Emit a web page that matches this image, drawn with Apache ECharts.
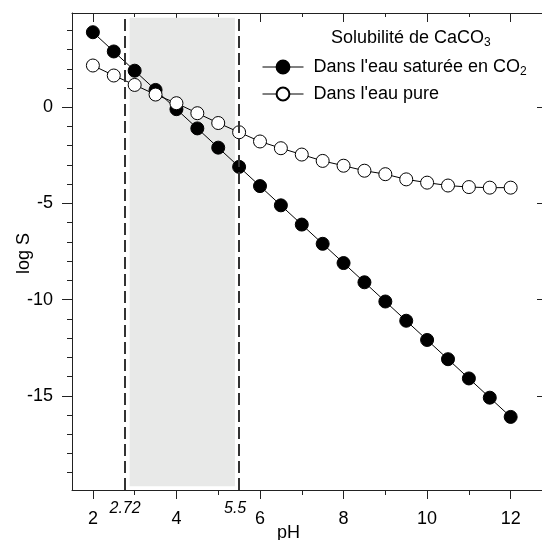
<!DOCTYPE html>
<html>
<head>
<meta charset="utf-8">
<script src="https://cdn.jsdelivr.net/npm/echarts@6/dist/echarts.min.js"></script>
<style>
html,body{margin:0;padding:0;background:#fff;}
#chart{width:542px;height:540px;}
</style>
</head>
<body>
<div id="chart"></div>
<script>
const phValues = [2, 2.5, 3, 3.5, 4, 4.5, 5, 5.5, 6, 6.5, 7, 7.5, 8, 8.5, 9, 9.5, 10, 10.5, 11, 11.5, 12];
const saturatedCO2 = [3.9, 2.9, 1.9, 0.9, -0.1, -1.1, -2.1, -3.1, -4.1, -5.1, -6.1, -7.1, -8.1, -9.1, -10.1, -11.1, -12.1, -13.1, -14.1, -15.1, -16.1];
const pureWater = [2.17, 1.65, 1.16, 0.66, 0.21, -0.31, -0.82, -1.3, -1.78, -2.13, -2.46, -2.79, -3.04, -3.3, -3.48, -3.75, -3.92, -4.07, -4.15, -4.18, -4.18];
const xMajorTicks = [2, 4, 6, 8, 10, 12];
const xMinorTicks = [3, 5, 7, 9, 11];
const yMajorTicks = [0, -5, -10, -15];
const yMinorTicks = [4, 3, 2, 1, -1, -2, -3, -4, -6, -7, -8, -9, -11, -12, -13, -14, -16, -17, -18, -19];
const bandLines = [2.77, 5.5];
const bandLabels = ['2.72', '5.5'];
const shadedRange = [2.88, 5.4];
const seriesNames = ["Dans l'eau saturée en CO2", "Dans l'eau pure"];

const X_MIN = 1.5, X_MAX = 12.75, Y_MIN = -19.9, Y_MAX = 4.9;
const FONT = "'Liberation Sans', Arial, sans-serif";
const AXC = '#222';
const FS = 18;

const chart = echarts.init(document.getElementById('chart'), null, {renderer: 'canvas'});

function xAx(pos, ticks, len, inside, showLine, showLabels) {
  return {
    type: 'value', position: pos, min: X_MIN, max: X_MAX,
    axisLine: {show: showLine, onZero: false, lineStyle: {color: AXC, width: 1}},
    axisTick: {show: true, inside: inside, length: len, customValues: ticks, lineStyle: {color: AXC, width: 1}},
    axisLabel: showLabels ? {show: true, customValues: ticks, margin: 20, fontSize: FS, color: '#000', fontFamily: FONT} : {show: false},
    splitLine: {show: false}
  };
}
function yAx(pos, ticks, len, inside, showLine, showLabels) {
  return {
    type: 'value', position: pos, min: Y_MIN, max: Y_MAX,
    axisLine: {show: showLine, onZero: false, lineStyle: {color: AXC, width: 1}},
    axisTick: {show: true, inside: inside, length: len, customValues: ticks, lineStyle: {color: AXC, width: 1}},
    axisLabel: showLabels ? {show: true, customValues: ticks, margin: 19, fontSize: FS, color: '#000', fontFamily: FONT} : {show: false},
    splitLine: {show: false}
  };
}

const subRich = {sub: {fontSize: 12, fontFamily: FONT, color: '#000', padding: [10, 0, 0, 0]}};

const option = {
  animation: false,
  backgroundColor: '#fff',
  grid: {left: 72, top: 13, width: 471, height: 477, containLabel: false},
  title: {
    text: 'Solubilité de CaCO{sub|3}',
    left: 331, top: 27, padding: 0,
    textStyle: {fontSize: FS, fontWeight: 'normal', color: '#000', fontFamily: FONT, rich: subRich}
  },
  legend: {
    data: seriesNames,
    orient: 'vertical', left: 262, top: 58, padding: 0,
    itemWidth: 41, itemHeight: 16, itemGap: 7,
    lineStyle: {width: 1, color: '#000'},
    formatter: function (name) {
      return name === seriesNames[0] ? "Dans l'eau saturée en CO{sub|2}" : name;
    },
    textStyle: {fontSize: FS, color: '#000', fontFamily: FONT, padding: [0, 0, 0, 5], rich: subRich}
  },
  xAxis: [
    xAx('bottom', xMajorTicks, 9, false, true, true),
    xAx('bottom', xMinorTicks, 5, false, false, false),
    xAx('top', xMajorTicks, 9, true, true, false),
    xAx('top', xMinorTicks, 4, true, false, false)
  ],
  yAxis: [
    yAx('left', yMajorTicks, 10, false, true, true),
    yAx('left', yMinorTicks, 5, false, false, false),
    yAx('right', yMajorTicks, 5, true, true, false)
  ],
  graphic: [
    {type: 'text', left: 277, top: 524, style: {text: 'pH', font: FS + 'px ' + FONT, fill: '#000'}},
    {type: 'text', x: 15, y: 274, rotation: Math.PI / 2, style: {text: 'log S', font: FS + 'px ' + FONT, fill: '#000'}}
  ],
  series: [
    {
      name: 'bands', type: 'line', data: [], z: 1, silent: true,
      markArea: {
        silent: true,
        itemStyle: {color: '#e8e9e8'},
        data: [[{coord: [shadedRange[0], 4.65]}, {coord: [shadedRange[1], -19.7]}]]
      },
      markLine: {
        silent: true, symbol: ['none', 'none'],
        lineStyle: {type: [12, 5], width: 2, color: '#333'},
        data: bandLines.map((v, i) => [
          {coord: [v, Y_MIN], label: {show: true, position: 'start', distance: 11, formatter: bandLabels[i], fontStyle: 'italic', fontSize: 16, color: '#000', fontFamily: FONT, offset: [i === 1 ? -4 : 0, 0]}},
          {coord: [v, 4.65]}
        ])
      }
    },
    {
      name: seriesNames[0], type: 'line', z: 3,
      data: phValues.map((p, i) => [p, saturatedCO2[i]]),
      symbol: 'circle', symbolSize: 13, showAllSymbol: true,
      lineStyle: {color: '#000', width: 1},
      itemStyle: {color: '#000', borderColor: '#000', borderWidth: 1}
    },
    {
      name: seriesNames[1], type: 'line', z: 4,
      data: phValues.map((p, i) => [p, pureWater[i]]),
      symbol: 'circle', symbolSize: 13, showAllSymbol: true,
      lineStyle: {color: '#000', width: 1},
      itemStyle: {color: '#fff', borderColor: '#000', borderWidth: 1}
    }
  ]
};
chart.setOption(option);
</script>
</body>
</html>
